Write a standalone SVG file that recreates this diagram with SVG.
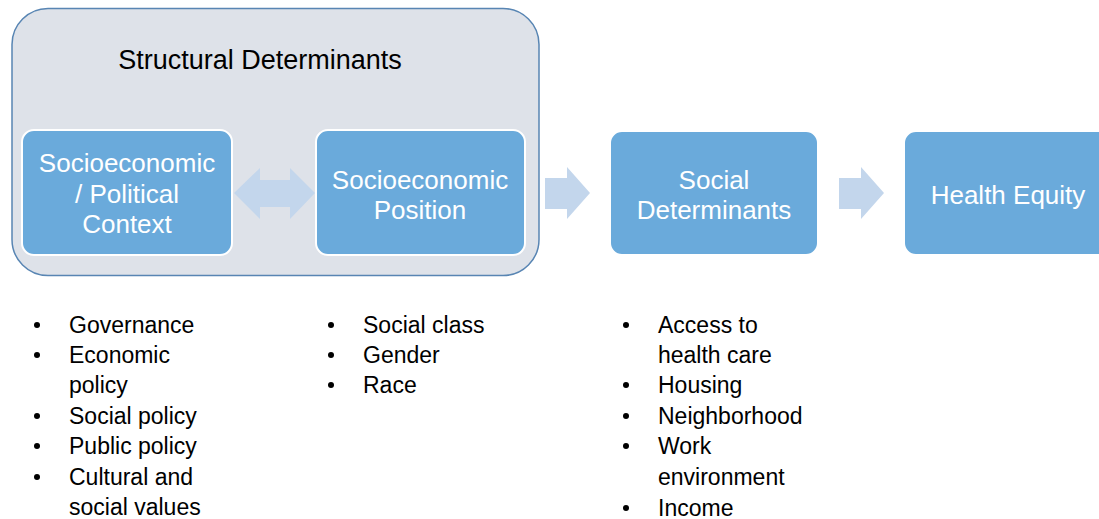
<svg xmlns="http://www.w3.org/2000/svg" width="1099" height="519" viewBox="0 0 1099 519">
<style>
.box{fill:#6aaadb;stroke:#ffffff;stroke-width:2}
.bt{font-family:"Liberation Sans",Arial,sans-serif;font-size:26px;fill:#ffffff;text-anchor:middle}
.arr{fill:#c3d6ec}
.li{font-family:"Liberation Sans",Arial,sans-serif;font-size:23px;fill:#000000}
.dot{fill:#000000}
</style>
<rect width="1099" height="519" fill="#ffffff"/>
<g id="structural">
<rect x="12" y="8.5" width="527" height="267" rx="36" ry="36" fill="#dee2e9" stroke="#5885b3" stroke-width="1.5"/>
<text x="260" y="69" font-family="'Liberation Sans',Arial,sans-serif" font-size="27" fill="#000000" text-anchor="middle">Structural Determinants</text>
</g>
<g id="connectors">
<path class="arr" d="M234,193 L260,168 L260,180 L290,180 L290,168 L315,193 L290,219 L290,207 L260,207 L260,219 Z"/>
<path class="arr" d="M545,178 L567,178 L567,167 L590,193 L567,219 L567,209 L545,209 Z"/>
<path class="arr" d="M839,178 L861,178 L861,167 L884,193 L861,219 L861,209 L839,209 Z"/>
</g>
<g id="context">
<rect class="box" x="22" y="130" width="210" height="125" rx="12"/>
<text class="bt" x="127" y="172">Socioeconomic</text>
<text class="bt" x="127" y="203">/ Political</text>
<text class="bt" x="127" y="233">Context</text>
</g>
<g id="position">
<rect class="box" x="316" y="130" width="209" height="125" rx="12"/>
<text class="bt" x="420" y="189">Socioeconomic</text>
<text class="bt" x="420" y="219">Position</text>
</g>
<g id="social">
<rect class="box" x="610" y="131" width="208" height="124" rx="12"/>
<text class="bt" x="714" y="189">Social</text>
<text class="bt" x="714" y="219">Determinants</text>
</g>
<g id="equity">
<rect class="box" x="904" y="131" width="210" height="124" rx="12"/>
<text class="bt" x="1008" y="204">Health Equity</text>
</g>
<g id="list1">
<circle class="dot" cx="37" cy="325" r="3"/>
<circle class="dot" cx="37" cy="355" r="3"/>
<circle class="dot" cx="37" cy="416" r="3"/>
<circle class="dot" cx="37" cy="446" r="3"/>
<circle class="dot" cx="37" cy="477" r="3"/>
<text class="li" x="69" y="333">Governance</text>
<text class="li" x="69" y="363">Economic</text>
<text class="li" x="69" y="393">policy</text>
<text class="li" x="69" y="424">Social policy</text>
<text class="li" x="69" y="454">Public policy</text>
<text class="li" x="69" y="485">Cultural and</text>
<text class="li" x="69" y="515">social values</text>
</g>
<g id="list2">
<circle class="dot" cx="331" cy="325" r="3"/>
<circle class="dot" cx="331" cy="355" r="3"/>
<circle class="dot" cx="331" cy="385" r="3"/>
<text class="li" x="363" y="333">Social class</text>
<text class="li" x="363" y="363">Gender</text>
<text class="li" x="363" y="393">Race</text>
</g>
<g id="list3">
<circle class="dot" cx="626" cy="325" r="3"/>
<circle class="dot" cx="626" cy="385" r="3"/>
<circle class="dot" cx="626" cy="416" r="3"/>
<circle class="dot" cx="626" cy="446" r="3"/>
<circle class="dot" cx="626" cy="508" r="3"/>
<text class="li" x="658" y="333">Access to</text>
<text class="li" x="658" y="363">health care</text>
<text class="li" x="658" y="393">Housing</text>
<text class="li" x="658" y="424">Neighborhood</text>
<text class="li" x="658" y="454">Work</text>
<text class="li" x="658" y="485">environment</text>
<text class="li" x="658" y="516">Income</text>
</g>
</svg>
